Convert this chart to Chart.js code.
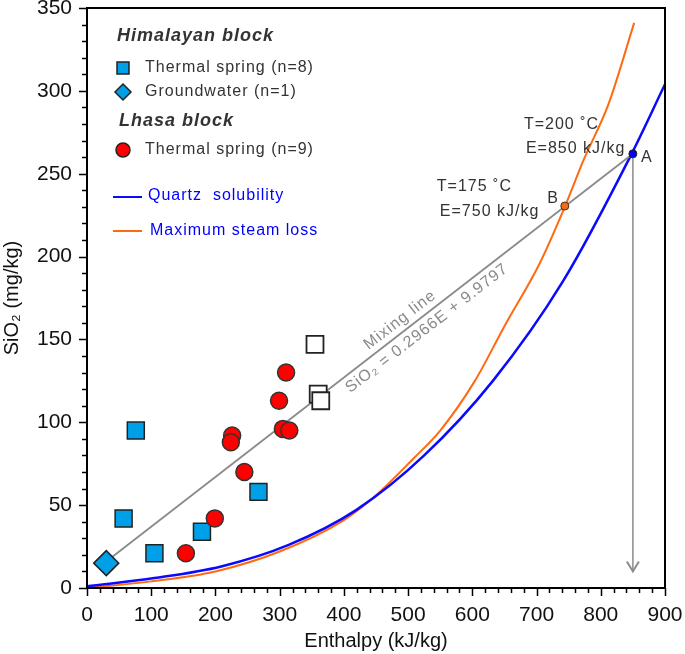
<!DOCTYPE html>
<html>
<head>
<meta charset="utf-8">
<script src="https://cdn.jsdelivr.net/npm/chart.js@4/dist/chart.umd.min.js"></script>
<style>
  body { margin: 0; background: #fff; }
  canvas { display: block; }
</style>
</head>
<body>
<canvas id="enthalpyChart" width="685" height="654"></canvas>
<script>
// Data
const himaSpringE = [76, 57, 105, 179, 267];
const himaSpringSi = [95, 42, 21, 34, 58];
const himaOpenE = [355, 360, 364];
const himaOpenSi = [147, 117, 113];
const groundE = [30];
const groundSi = [15];
const lhasaE = [154, 199, 245, 226, 224, 299, 310, 305, 315];
const lhasaSi = [21, 42, 70, 92, 88, 113, 130, 96, 95];

const quartzE = [0, 105, 209, 314, 419, 525, 632, 741, 848, 900];
const quartzSi = [1, 6, 13, 26, 47, 80, 125, 185, 262, 304];
const steamE = [0, 100, 200, 300, 400, 450, 508, 550, 604, 650, 705, 744, 773, 812, 852];
const steamSi = [0, 4, 10, 22, 41, 56, 78, 95, 125, 158, 196, 230, 258, 292, 341];

const mixE = [30, 850];
const mixSi = [16, 262];
const arrowE = [850, 850];
const arrowSi = [262, 10];
const pointA = [850, 262];
const pointB = [744, 230.5];

const xTicks = [0, 900, 100];   // min, max, step
const yTicks = [0, 350, 50];

const FONT = '"Liberation Sans", Arial, sans-serif';
const SPRING_BLUE = '#00a0e9';
const PLOT_TOP = 8;

function toPoints(xs, ys) {
    return xs.map((x, i) => ({ x: x, y: ys[i] }));
}

// Pin the top of the plot area (Chart.js reserves room for the top tick label)
const plotTopPlugin = {
    id: 'plotTop',
    afterLayout(chart) {
        const area = chart.chartArea;
        area.top = PLOT_TOP;
        area.height = area.bottom - PLOT_TOP;
        const y = chart.scales.y;
        y.top = PLOT_TOP;
        y.height = y.bottom - PLOT_TOP;
        y.configure();
    }
};

// Frame, minor ticks, arrow head, annotations and legend
const overlayPlugin = {
    id: 'overlay',
    afterDraw(chart) {
        const ctx = chart.ctx;
        const area = chart.chartArea;
        const xs = chart.scales.x;
        const ys = chart.scales.y;

        ctx.save();
        // ticks
        ctx.strokeStyle = '#000';
        ctx.lineWidth = 1.5;
        ctx.beginPath();
        for (let v = xTicks[0]; v <= xTicks[1]; v += 20) {
            const px = Math.round(xs.getPixelForValue(v)) + 0.5;
            const len = v % 100 === 0 ? 8 : 5;
            ctx.moveTo(px, area.bottom);
            ctx.lineTo(px, area.bottom + len);
        }
        for (let v = yTicks[0]; v <= yTicks[1]; v += 10) {
            const py = Math.round(ys.getPixelForValue(v)) + 0.5;
            const len = v % 50 === 0 ? 8 : 5;
            ctx.moveTo(area.left - len, py);
            ctx.lineTo(area.left, py);
        }
        ctx.stroke();

        // frame
        ctx.lineWidth = 2;
        ctx.strokeRect(area.left, area.top, area.right - area.left, area.bottom - area.top);

        // arrow head
        const ax = xs.getPixelForValue(arrowE[1]);
        const ay = ys.getPixelForValue(arrowSi[1]);
        ctx.strokeStyle = '#8c8c8c';
        ctx.lineWidth = 2;
        ctx.beginPath();
        ctx.moveTo(ax - 6, ay - 10);
        ctx.lineTo(ax, ay);
        ctx.lineTo(ax + 6, ay - 10);
        ctx.stroke();

        ctx.letterSpacing = '1px';
        ctx.textBaseline = 'middle';
        ctx.textAlign = 'left';

        // point labels
        const pa = { x: xs.getPixelForValue(pointA[0]), y: ys.getPixelForValue(pointA[1]) };
        const pb = { x: xs.getPixelForValue(pointB[0]), y: ys.getPixelForValue(pointB[1]) };
        ctx.fillStyle = '#333';
        ctx.font = '16px ' + FONT;
        ctx.fillText('T=200 ˚C', pa.x - 109, pa.y - 29);
        ctx.fillText('E=850 kJ/kg', pa.x - 107, pa.y - 5);
        ctx.fillText('A', pa.x + 8, pa.y + 4);
        ctx.fillText('T=175 ˚C', pb.x - 128, pb.y - 19);
        ctx.fillText('E=750 kJ/kg', pb.x - 125, pb.y + 6);
        ctx.textAlign = 'right';
        ctx.fillText('B', pb.x - 6, pb.y - 7);

        // mixing line text
        const m0 = { x: xs.getPixelForValue(mixE[0]), y: ys.getPixelForValue(mixSi[0]) };
        const m1 = { x: xs.getPixelForValue(mixE[1]), y: ys.getPixelForValue(mixSi[1]) };
        const angle = Math.atan2(m1.y - m0.y, m1.x - m0.x);
        const along = (e) => {
            const t = (e - mixE[0]) / (mixE[1] - mixE[0]);
            return { x: m0.x + t * (m1.x - m0.x), y: m0.y + t * (m1.y - m0.y) };
        };
        ctx.fillStyle = '#8a8a8a';
        ctx.textAlign = 'center';
        let c = along(498);
        ctx.save();
        ctx.translate(c.x, c.y);
        ctx.rotate(angle);
        ctx.fillText('Mixing line', 0, -11);
        ctx.restore();
        c = along(518);
        ctx.save();
        ctx.translate(c.x, c.y);
        ctx.rotate(angle);
        ctx.fillText('SiO₂ = 0.2966E + 9.9797', 0, 12);
        ctx.restore();

        // legend
        const lx = area.left;
        const ly = area.top;
        ctx.textAlign = 'left';
        ctx.fillStyle = '#333';
        ctx.font = 'italic bold 18px ' + FONT;
        ctx.fillText('Himalayan block', lx + 30, ly + 28);
        ctx.fillText('Lhasa block', lx + 32, ly + 113);

        ctx.font = '16px ' + FONT;
        ctx.fillText('Thermal spring (n=8)', lx + 58, ly + 60);
        ctx.fillText('Groundwater (n=1)', lx + 58, ly + 84);
        ctx.fillText('Thermal spring (n=9)', lx + 58, ly + 142);
        ctx.fillStyle = '#0000ff';
        ctx.fillText('Quartz  solubility', lx + 61, ly + 188);
        ctx.fillText('Maximum steam loss', lx + 63, ly + 223);

        ctx.letterSpacing = '0px';
        ctx.lineWidth = 1.5;
        ctx.strokeStyle = '#222';
        // square
        ctx.fillStyle = SPRING_BLUE;
        ctx.fillRect(lx + 30, ly + 54, 12, 12);
        ctx.strokeRect(lx + 30, ly + 54, 12, 12);
        // diamond
        ctx.beginPath();
        ctx.moveTo(lx + 36, ly + 76);
        ctx.lineTo(lx + 44, ly + 84);
        ctx.lineTo(lx + 36, ly + 92);
        ctx.lineTo(lx + 28, ly + 84);
        ctx.closePath();
        ctx.fill();
        ctx.stroke();
        // circle
        ctx.fillStyle = '#ff0000';
        ctx.beginPath();
        ctx.arc(lx + 36, ly + 142, 7, 0, Math.PI * 2);
        ctx.fill();
        ctx.stroke();
        // lines
        ctx.lineWidth = 2;
        ctx.strokeStyle = '#0a0aff';
        ctx.beginPath();
        ctx.moveTo(lx + 26, ly + 189);
        ctx.lineTo(lx + 55, ly + 189);
        ctx.stroke();
        ctx.strokeStyle = '#ff6a10';
        ctx.beginPath();
        ctx.moveTo(lx + 26, ly + 223);
        ctx.lineTo(lx + 55, ly + 223);
        ctx.stroke();

        ctx.restore();
    }
};

function clearPadding(scale) {
    scale.paddingTop = 0;
    scale.paddingBottom = 0;
    scale.paddingLeft = 0;
    scale.paddingRight = 0;
}

Chart.defaults.font.family = FONT;

new Chart(document.getElementById('enthalpyChart'), {
    type: 'scatter',
    data: {
        datasets: [
            {
                label: 'A',
                data: toPoints([pointA[0]], [pointA[1]]),
                pointRadius: 4,
                backgroundColor: '#0000ff',
                borderColor: '#222',
                borderWidth: 1,
                order: 0
            },
            {
                label: 'B',
                data: toPoints([pointB[0]], [pointB[1]]),
                pointRadius: 4,
                backgroundColor: '#ff6a10',
                borderColor: '#333',
                borderWidth: 1,
                order: 0
            },
            {
                label: 'Lhasa thermal spring',
                data: toPoints(lhasaE, lhasaSi),
                pointStyle: 'circle',
                pointRadius: 8.5,
                backgroundColor: '#ff0000',
                borderColor: '#333',
                borderWidth: 1.5,
                order: 1
            },
            {
                label: 'Himalayan thermal spring',
                data: toPoints(himaSpringE, himaSpringSi),
                pointStyle: 'rect',
                pointRadius: 12,
                backgroundColor: SPRING_BLUE,
                borderColor: '#222',
                borderWidth: 1.5,
                order: 1
            },
            {
                label: 'Himalayan thermal spring (open)',
                data: toPoints(himaOpenE, himaOpenSi),
                pointStyle: 'rect',
                pointRadius: 12,
                backgroundColor: '#fff',
                borderColor: '#222',
                borderWidth: 1.8,
                order: 1
            },
            {
                label: 'Groundwater',
                data: toPoints(groundE, groundSi),
                pointStyle: 'rectRot',
                pointRadius: 12.5,
                backgroundColor: SPRING_BLUE,
                borderColor: '#222',
                borderWidth: 1.5,
                order: 1
            },
            {
                label: 'Mixing line',
                data: toPoints(mixE, mixSi),
                showLine: true,
                pointRadius: 0,
                borderColor: '#8a8a8a',
                borderWidth: 1.8,
                order: 5
            },
            {
                label: 'Arrow',
                data: toPoints(arrowE, arrowSi),
                showLine: true,
                pointRadius: 0,
                borderColor: '#8c8c8c',
                borderWidth: 1.5,
                order: 5
            },
            {
                label: 'Quartz solubility',
                data: toPoints(quartzE, quartzSi),
                showLine: true,
                pointRadius: 0,
                borderColor: '#0a0aff',
                borderWidth: 2.5,
                cubicInterpolationMode: 'monotone',
                order: 6
            },
            {
                label: 'Maximum steam loss',
                data: toPoints(steamE, steamSi),
                showLine: true,
                pointRadius: 0,
                borderColor: '#ff6a10',
                borderWidth: 2,
                cubicInterpolationMode: 'monotone',
                order: 6
            }
        ]
    },
    options: {
        responsive: false,
        animation: false,
        devicePixelRatio: 1,
        layout: { padding: { top: PLOT_TOP, right: 20, left: 0, bottom: 0 } },
        plugins: {
            legend: { display: false },
            tooltip: { enabled: false }
        },
        scales: {
            x: {
                type: 'linear',
                min: xTicks[0],
                max: xTicks[1],
                grid: { display: false },
                border: { display: false },
                ticks: {
                    stepSize: xTicks[2],
                    autoSkip: false,
                    maxRotation: 0,
                    padding: 7,
                    color: '#111',
                    font: { size: 21 }
                },
                title: {
                    display: true,
                    text: 'Enthalpy (kJ/kg)',
                    color: '#111',
                    font: { size: 20 },
                    padding: { top: 0, bottom: 1 }
                },
                afterFit: (scale) => {
                    scale.height = 66;
                    clearPadding(scale);
                }
            },
            y: {
                type: 'linear',
                min: yTicks[0],
                max: yTicks[1],
                grid: { display: false },
                border: { display: false },
                ticks: {
                    stepSize: yTicks[2],
                    autoSkip: false,
                    padding: 7,
                    color: '#111',
                    font: { size: 21 }
                },
                title: {
                    display: true,
                    text: 'SiO₂ (mg/kg)',
                    color: '#111',
                    font: { size: 20 },
                    padding: 0
                },
                afterFit: (scale) => {
                    scale.width = 87;
                    clearPadding(scale);
                }
            }
        }
    },
    plugins: [plotTopPlugin, overlayPlugin]
});
</script>
</body>
</html>
